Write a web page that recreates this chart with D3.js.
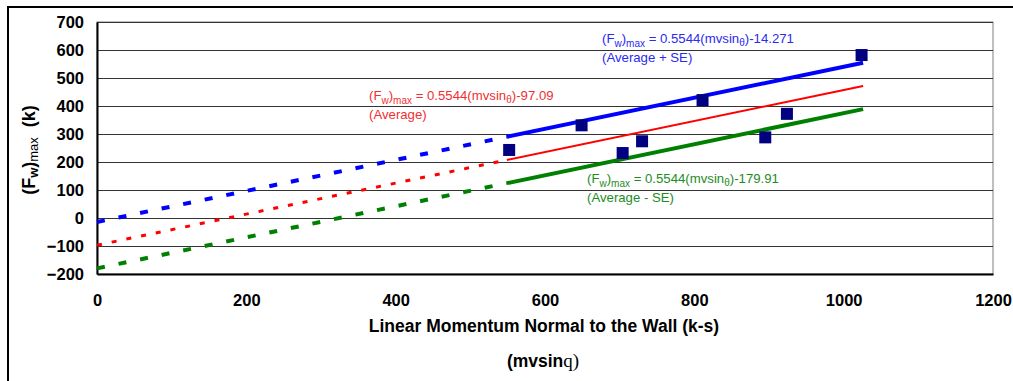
<!DOCTYPE html>
<html><head><meta charset="utf-8">
<script src="https://cdn.jsdelivr.net/npm/d3@7"></script>
<style>body{margin:0;background:#fff}svg{display:block}text{font-family:"Liberation Sans",Arial,sans-serif;white-space:pre}</style>
</head><body>
<svg id="c" width="1013" height="381"></svg>
<script>
const xTicks = [0,200,400,600,800,1000,1200];
const yTicks = [-200,-100,0,100,200,300,400,500,600,700];
const momentum = [552,649,704,730,811,895,924,1024];
const force = [243,331,232,274,421,288,372,582];
const slope = 0.5544;
const intercepts = [-14.271,-97.09,-179.91];
const seriesNames = ["Average + SE","Average","Average - SE"];
const fitRange = [0,549,1026];

const svg = d3.select("#c");
const L=97,R=993,T=22,B=274;
const x = d3.scaleLinear().domain([0,1200]).range([L,R]);
const y = d3.scaleLinear().domain([-200,700]).range([B,T]);

// outer border
svg.append("rect").attr("x",8).attr("y",7).attr("width",1030).attr("height",400)
  .attr("fill","none").attr("stroke","#000").attr("stroke-width",2);

// plot border
svg.append("rect").attr("x",L).attr("y",T).attr("width",R-L).attr("height",B-T)
  .attr("fill","none").attr("stroke","#808080").attr("stroke-width",1);

// gridlines
svg.append("g").selectAll("line").data(yTicks.filter(d=>d>-200)).join("line")
  .attr("x1",L).attr("x2",R).attr("y1",d=>Math.round(y(d))+0.5).attr("y2",d=>Math.round(y(d))+0.5)
  .attr("stroke","#333").attr("stroke-width",1);

// axes
const yAx = svg.append("g").attr("transform",`translate(${L},0)`)
  .call(d3.axisLeft(y).tickValues(yTicks).tickFormat(d3.format("d")).tickSize(0).tickPadding(13));
const xAx = svg.append("g").attr("transform",`translate(0,${B})`)
  .call(d3.axisBottom(x).tickValues(xTicks).tickFormat(d3.format("d")).tickSize(0).tickPadding(20));
[yAx,xAx].forEach(a=>{
  a.select(".domain").attr("stroke","#000").attr("stroke-width",2);
  a.selectAll("text").attr("font-size",16.5).attr("font-weight","bold").attr("fill","#000")
   .attr("font-family","'Liberation Sans',Arial,sans-serif");
});

const colors = ["#0000ff","#ff0000","#008000"];
const solidW = [4,2,4];
const dashW = [4,3,4];
const dashes = ["8,14","5,10","8,14"];
intercepts.forEach((b,i)=>{
  const f = v=>slope*v+b;
  svg.append("line").attr("x1",x(fitRange[0])).attr("y1",y(f(fitRange[0])))
    .attr("x2",x(fitRange[1])).attr("y2",y(f(fitRange[1])))
    .attr("stroke",colors[i]).attr("stroke-width",dashW[i]).attr("stroke-dasharray",dashes[i]);
  svg.append("line").attr("x1",x(fitRange[1])).attr("y1",y(f(fitRange[1])))
    .attr("x2",x(fitRange[2])).attr("y2",y(f(fitRange[2])))
    .attr("stroke",colors[i]).attr("stroke-width",solidW[i]);
});

// points
svg.append("g").selectAll("rect").data(momentum).join("rect")
  .attr("x",(d)=>x(d)-6).attr("y",(d,i)=>y(force[i])-6).attr("width",12).attr("height",12)
  .attr("fill","#000080");

// annotations
const labelPos = [[602,43,62],[369,100,119],[587,183,202]];
const textCol = ["#2a2af0","#f03030","#1e8c1e"];
intercepts.forEach((b,i)=>{
  const [lx,ly1,ly2] = labelPos[i];
  const t = svg.append("text").attr("x",lx).attr("y",ly1).attr("font-size",13.2).attr("fill",textCol[i]);
  t.append("tspan").text("(F");
  t.append("tspan").attr("font-size",10).attr("dy",4).text("w");
  t.append("tspan").attr("dy",-4).text(")");
  t.append("tspan").attr("font-size",10).attr("dy",4).text("max");
  t.append("tspan").attr("dy",-4).text(" = "+slope+"(mvsin");
  t.append("tspan").attr("font-size",10).attr("dy",3).text("θ");
  t.append("tspan").attr("dy",-3).text(")-"+Math.abs(b));
  svg.append("text").attr("x",lx).attr("y",ly2).attr("font-size",13.2).attr("fill",textCol[i])
    .text("("+seriesNames[i]+")");
});

// axis titles
svg.append("text").attr("x",544).attr("y",332).attr("text-anchor","middle")
  .attr("font-size",17.5).attr("font-weight","bold").text("Linear Momentum Normal to the Wall (k-s)");
const t2 = svg.append("text").attr("x",543).attr("y",367).attr("text-anchor","middle")
  .attr("font-size",17.5).attr("font-weight","bold");
t2.append("tspan").text("(mvsin");
t2.append("tspan").attr("font-family","'Liberation Serif','Times New Roman',serif").attr("font-weight","normal").attr("font-size",19).text("q)");

const yt = svg.append("text").attr("transform",`translate(35,150) rotate(-90)`).attr("text-anchor","middle")
  .attr("font-size",18).attr("font-weight","bold");
yt.append("tspan").text("(F");
yt.append("tspan").attr("font-size",13).attr("dy",3).text("w");
yt.append("tspan").attr("dy",-3).text(")");
yt.append("tspan").attr("font-size",13).attr("font-weight","normal").attr("dy",3).text("max");
yt.append("tspan").attr("dy",-3).text("\u00a0\u00a0(k)");
</script>
</body></html>
